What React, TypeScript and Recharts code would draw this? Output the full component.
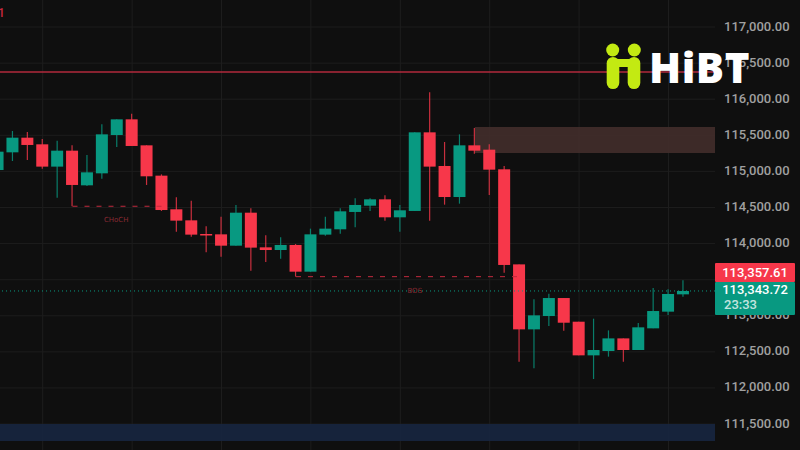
import { ComposedChart, Bar, XAxis, YAxis, CartesianGrid, ReferenceLine, ReferenceArea } from "recharts";

const opens = [115019, 115264, 115467, 115375, 115066, 115287, 114807, 114973, 115504, 115721, 115361, 114941, 114475, 114322, 114133, 114128, 113971, 114428, 113948, 113911, 113981, 113611, 114124, 114198, 114438, 114525, 114613, 114364, 114452, 115541, 115075, 114645, 115361, 115301, 115029, 113712, 112812, 112997, 113246, 112918, 112452, 112512, 112687, 112526, 112826, 113057, 113297];
const highs = [115290, 115560, 115546, 115449, 115426, 115361, 115227, 115652, 115721, 115800, 115361, 114959, 114641, 114595, 114239, 114373, 114535, 114488, 114114, 114087, 113994, 114207, 114373, 114488, 114627, 114627, 114668, 114535, 115541, 116095, 115407, 115513, 115601, 115375, 115075, 113712, 113228, 113306, 113246, 112918, 112960, 112798, 112687, 112900, 113385, 113366, 113491];
const lows = [115010, 115144, 115158, 115038, 114636, 114516, 114798, 114899, 115338, 115352, 114812, 114452, 114165, 114096, 113879, 113819, 113971, 113625, 113745, 113791, 113542, 113611, 114110, 114138, 114225, 114452, 114318, 114165, 114452, 114318, 114539, 114553, 115246, 114673, 113597, 112364, 112272, 112858, 112794, 112452, 112124, 112434, 112364, 112526, 112826, 113011, 113265];
const closes = [115273, 115467, 115366, 115066, 115287, 114812, 114987, 115513, 115721, 115352, 114932, 114465, 114318, 114124, 114119, 113971, 114428, 113944, 113911, 113981, 113611, 114128, 114207, 114447, 114535, 114613, 114364, 114461, 115541, 115066, 114645, 115361, 115287, 115024, 113704, 112812, 113006, 113246, 112904, 112452, 112526, 112687, 112526, 112840, 113066, 113302, 113343.72];

const priceTicks = [111500, 112000, 112500, 113000, 113500, 114000, 114500, 115000, 115500, 116000, 116500, 117000];
const timeTicks = [3, 9, 15, 21, 27, 33, 39, 45];

const resistanceLevel = 116377;
const lastPrice = 113343.72;
const askPrice = 113357.61;
const supplyZone = { from: 32, top: 115615, bottom: 115255 };
const demandZone = { top: 111500, bottom: 111265 };
const choch = { from: 5, to: 11, level: 114517 };
const bos = { from: 20, to: 35, level: 113542 };

const UP = "#089981";
const DOWN = "#f7374a";
const BG = "#0f0f0f";
const GRID = "#1d1d1d";

const candles = opens.map((open, i) => ({
  i,
  open,
  close: closes[i],
  range: [lows[i], highs[i]],
}));

const fmt = (v: number) =>
  v.toLocaleString("en-US", { minimumFractionDigits: 2, maximumFractionDigits: 2 });

function Candle(props: any) {
  const { x, y, width, height, payload } = props;
  const [low, high] = payload.range;
  const perUnit = height / (high - low);
  const top = y + (high - Math.max(payload.open, payload.close)) * perUnit;
  const bottom = y + (high - Math.min(payload.open, payload.close)) * perUnit;
  const color = payload.close >= payload.open ? UP : DOWN;
  const mid = x + width / 2;
  return (
    <g>
      <line x1={mid} x2={mid} y1={y} y2={y + height} stroke={color} strokeOpacity={0.8} strokeWidth={1.2} />
      <rect x={x} y={top} width={width} height={Math.max(bottom - top, 1.5)} fill={color} />
    </g>
  );
}

function PriceTick(props: any) {
  const { y, payload } = props;
  return (
    <text x={724} y={y + 3.5} fill="#a0a0a0" fontSize={13} fontFamily="Roboto" fontWeight={500}>
      {fmt(payload.value)}
    </text>
  );
}

const box: React.CSSProperties = {
  position: "absolute",
  left: 715,
  width: 80,
  color: "#fff",
  font: "500 13px Roboto",
  textAlign: "center",
  borderRadius: 1,
};

export default function App() {
  return (
    <div style={{ position: "absolute", left: 0, top: 0, width: 800, height: 450, background: BG, overflow: "hidden" }}>
      <ComposedChart width={800} height={450} data={candles} margin={{ top: 0, right: 0, bottom: 0, left: 0 }}>
        <CartesianGrid stroke={GRID} strokeWidth={1} syncWithTicks />
        <XAxis
          type="number"
          dataKey="i"
          domain={[0.134, 48.12]}
          ticks={timeTicks}
          allowDataOverflow
          hide
        />
        <YAxis
          orientation="right"
          width={85}
          domain={[111141, 117374]}
          ticks={priceTicks}
          interval={0}
          axisLine={false}
          tickLine={false}
          allowDataOverflow
          tick={<PriceTick />}
        />
        <ReferenceArea x1={supplyZone.from} y1={supplyZone.top} y2={supplyZone.bottom} fill="#432d2b" fillOpacity={0.9} stroke="none" />
        <ReferenceArea y1={demandZone.top} y2={demandZone.bottom} fill="#17253f" fillOpacity={0.92} stroke="none" />
        <ReferenceLine y={resistanceLevel} stroke="#b22a3c" strokeWidth={1.5} />
        <ReferenceLine y={lastPrice} stroke={UP} strokeWidth={1} strokeDasharray="1 3" />
        <ReferenceLine
          segment={[{ x: choch.from, y: choch.level }, { x: choch.to, y: choch.level }]}
          stroke="#c22a3e"
          strokeDasharray="5 7"
          label={{ value: "CHoCH", position: "bottom", fill: "#8a2a33", fontSize: 7, fontFamily: "DejaVu Sans", offset: 11, dx: -1 }}
        />
        <ReferenceLine
          segment={[{ x: bos.from, y: bos.level }, { x: bos.to, y: bos.level }]}
          stroke="#c22a3e"
          strokeDasharray="5 7"
          label={{ value: "BOS", position: "bottom", fill: "#8a2a33", fontSize: 7, fontFamily: "DejaVu Sans", offset: 11, dx: 7 }}
        />
        <Bar dataKey="range" barSize={12} shape={<Candle />} isAnimationActive={false} />
      </ComposedChart>

      <div style={{ ...box, top: 263, height: 19, lineHeight: "19px", background: "#f7374a" }}>{fmt(askPrice)}</div>
      <div style={{ ...box, top: 282, height: 33, lineHeight: "16px", background: UP }}>
        <div>{fmt(lastPrice)}</div>
        <div style={{ textAlign: "left", paddingLeft: 9, opacity: 0.75, marginTop: -1 }}>23:33</div>
      </div>

      <div style={{ position: "absolute", left: -2, top: 6, color: "#c8283f", font: "500 12px Roboto" }}>1</div>

      <svg style={{ position: "absolute", left: 604, top: 42 }} width={40} height={48}>
        <g fill="#c3ea12">
          <circle cx={8.7} cy={8} r={6.5} />
          <circle cx={30.3} cy={8} r={6.5} />
          <rect x={2.7} y={15} width={12.6} height={32} rx={6.3} />
          <rect x={23.7} y={15} width={12.6} height={32} rx={6.3} />
          <rect x={12} y={17} width={16} height={8} />
        </g>
      </svg>
      <div
        style={{
          position: "absolute",
          left: 649,
          top: 42,
          color: "#fff",
          font: "800 42px 'Open Sans'",
          letterSpacing: 0.5,
          lineHeight: "50px",
        }}
      >
        HiBT
      </div>
    </div>
  );
}
